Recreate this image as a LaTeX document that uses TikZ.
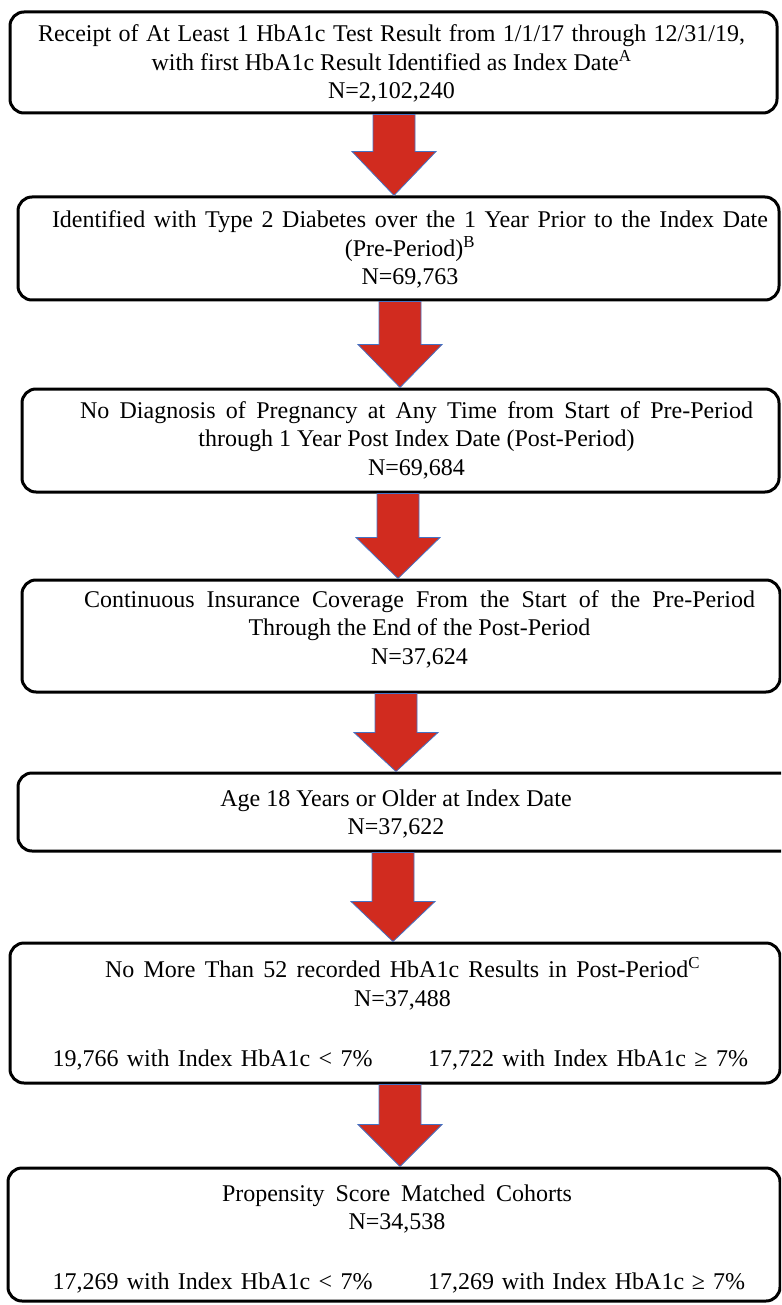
\documentclass[tikz,border=0pt]{standalone}
\usepackage{fontspec}
\setmainfont{Liberation Serif}
\usetikzlibrary{calc}
\definecolor{arrred}{RGB}{209,43,31}
\definecolor{arrblue}{RGB}{68,114,196}
\newcommand\sline[2]{\makebox[#1pt][s]{#2}}
\newcommand\flowarrow[4]{% #1 upper box, #2 lower box, #3 x centre, #4 head length
  \coordinate (ax#1) at (#3,0);
  \filldraw[barrow] ($(#1.south -| ax#1)+(-21,0)$) -- ($(#1.south -| ax#1)+(21,0)$)
    -- ($(#2.north -| ax#1)+(21,-#4)$) -- ($(#2.north -| ax#1)+(42,-#4)$)
    -- (#2.north -| ax#1) -- ($(#2.north -| ax#1)+(-42,-#4)$)
    -- ($(#2.north -| ax#1)+(-21,-#4)$) -- cycle;}
\begin{document}
\begin{tikzpicture}[x=1pt,y=-1pt,
  box/.style={draw=black, line width=3pt, rounded corners=14pt, inner sep=0pt, fill=white},
  txt/.style={font=\fontsize{24}{28.5}\selectfont, align=center, inner sep=0pt},
  barrow/.style={fill=arrred, draw=arrblue, line width=0.8pt}]
\useasboundingbox (0,0) rectangle (781,1305);
\fill[white] (0,0) rectangle (781,1305);
\clip (0,0) rectangle (781,1305);

% boxes
\node[box, minimum width=767pt, minimum height=101pt] (b1) at (393.5,62.5) {};
\node[box, minimum width=761pt, minimum height=103pt] (b2) at (398.5,248.5) {};
\node[box, minimum width=757pt, minimum height=103pt] (b3) at (400.5,440.5) {};
\node[box, minimum width=758pt, minimum height=112pt] (b4) at (401,636) {};
\node[box, minimum width=777pt, minimum height=78pt] (b5) at (406.5,812) {};
\node[box, minimum width=770pt, minimum height=140pt] (b6) at (395,1013) {};
\node[box, minimum width=772pt, minimum height=133pt] (b7) at (394,1234.5) {};

% texts
\node[txt] (t1) at (391.5,63.5) {\sline{707}{Receipt of At Least 1 HbA1c Test Result from 1/1/17 through 12/31/19,}\\
  with first HbA1c Result Identified as Index Date\textsuperscript{A}\\ N=2,102,240};
\node[txt] (t2) at (410,249.5) {\sline{716}{Identified with Type 2 Diabetes over the 1 Year Prior to the Index Date}\\
  (Pre-Period)\textsuperscript{B}\\ N=69,763};
\node[txt] (t3) at (416.5,440) {\sline{673}{No Diagnosis of Pregnancy at Any Time from Start of Pre-Period}\\
  through 1 Year Post Index Date (Post-Period)\\ N=69,684};
\node[txt] (t4) at (419.5,629) {\sline{671}{Continuous Insurance Coverage From the Start of the Pre-Period}\\
  Through the End of the Post-Period\\ N=37,624};
\node[txt] (t5) at (396,814) {Age 18 Years or Older at Index Date\\ N=37,622};
\node[txt] (t6) at (402.5,984) {\sline{595}{No More Than 52 recorded HbA1c Results in Post-Period\textsuperscript{C}}\\ N=37,488};
\node[txt] (t6l) at (212.5,1060) {\sline{320}{19,766 with Index HbA1c < 7\%}};
\node[txt] (t6r) at (588,1060) {\sline{320}{17,722 with Index HbA1c ≥ 7\%}};
\node[txt] (t7) at (397,1209) {\sline{350}{Propensity Score Matched Cohorts}\\ N=34,538};
\node[txt] (t7l) at (212.5,1283) {\sline{320}{17,269 with Index HbA1c < 7\%}};
\node[txt] (t7r) at (586.5,1283) {\sline{317}{17,269 with Index HbA1c ≥ 7\%}};

% arrows
\flowarrow{b1}{b2}{394}{44}
\flowarrow{b2}{b3}{400}{43}
\flowarrow{b3}{b4}{398}{41}
\flowarrow{b4}{b5}{396}{39}
\flowarrow{b5}{b6}{393}{40}
\flowarrow{b6}{b7}{400}{42}
\end{tikzpicture}
\end{document}
